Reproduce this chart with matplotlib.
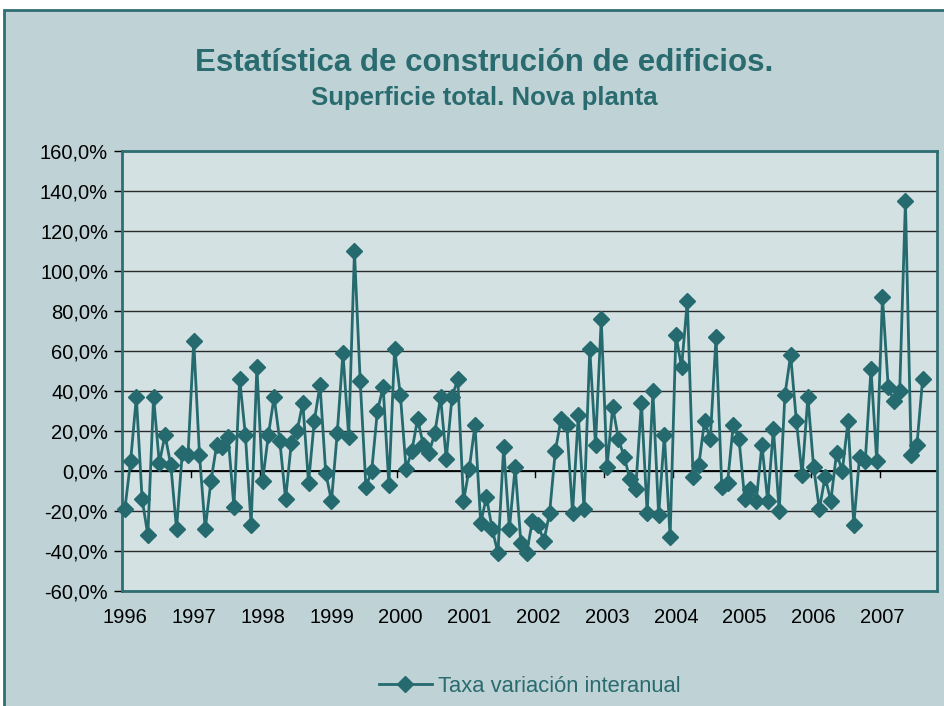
import matplotlib
matplotlib.use("Agg")
import matplotlib.pyplot as plt
from matplotlib.patches import Rectangle
from matplotlib.lines import Line2D

# ---- data (monthly, Jan 1996 .. Aug 2007), % year-on-year change ----
taxa = [
    -19, 5, 37, -14, -32, 37, 4, 18, 3, -29, 9, 8,          # 1996
    65, 8, -29, -5, 13, 12, 17, -18, 46, 18, -27, 52,       # 1997
    -5, 18, 37, 15, -14, 14, 20, 34, -6, 25, 43, -1,        # 1998
    -15, 19, 59, 17, 110, 45, -8, 0, 30, 42, -7, 61,        # 1999
    38, 1, 10, 26, 13, 9, 19, 37, 6, 37, 46, -15,           # 2000
    1, 23, -26, -13, -29, -41, 12, -29, 2, -36, -41, -25,   # 2001
    -27, -35, -21, 10, 26, 23, -21, 28, -19, 61, 13, 76,    # 2002
    2, 32, 16, 7, -4, -9, 34, -21, 40, -22, 18, -33,        # 2003
    68, 52, 85, -3, 3, 25, 16, 67, -8, -6, 23, 16,          # 2004
    -14, -9, -15, 13, -15, 21, -20, 38, 58, 25, -2, 37,     # 2005
    2, -19, -3, -15, 9, 0, 25, -27, 7, 5, 51, 5,            # 2006
    87, 42, 35, 40, 135, 8, 13, 46,                         # 2007
]
years = [str(y) for y in range(1996, 2008)]
serie_label = "Taxa variación interanual"
title = "Estatística de construción de edificios."
subtitle = "Superficie total. Nova planta"

teal = "#256A6E"
txt_teal = "#2A6B6F"
plt.rcParams['font.family'] = ['Liberation Sans', 'DejaVu Sans']

fig = plt.figure(figsize=(9.44, 7.06), dpi=100, facecolor="white")
bg = Rectangle((4 / 944, -0.02), 1.1, (706 - 10) / 706 + 0.02, transform=fig.transFigure,
               facecolor="#BFD2D5", edgecolor="#2F6E73", lw=2, zorder=-10)
fig.patches.append(bg)

ax = fig.add_axes([122 / 944, 1 - 591 / 706, (937 - 122) / 944, (591 - 151) / 706])
ax.set_facecolor("#D3E1E3")

x = list(range(len(taxa)))
ax.plot(x, taxa, color=teal, lw=2, marker="D", markersize=7.8,
        markerfacecolor=teal, markeredgecolor=teal, zorder=3, clip_on=False)

ax.set_xlim(-0.5, 141.5)
ax.set_ylim(-60, 160)

yt = list(range(-60, 161, 20))
ax.set_yticks(yt)
ax.set_yticklabels([f"{v},0%" for v in yt], fontsize=14.5)
for v in yt:
    ax.axhline(v, color="#2a2a2a", lw=1.0, zorder=1)
ax.axhline(0, color="black", lw=1.3, zorder=2)

# year labels at category centres, year tick marks on the zero line
ax.set_xticks([12 * i for i in range(len(years))])
ax.set_xticklabels(years, fontsize=14.5)
ax.tick_params(axis="x", length=0, pad=12)
for i in range(1, 12):
    ax.plot([12 * i - 0.5, 12 * i - 0.5], [0, -3], color="black", lw=1, zorder=2)
ax.tick_params(axis="y", length=6, width=1, color="black", pad=4, direction="out")

for s in ax.spines.values():
    s.set_color("#2F6E73")
    s.set_linewidth(2)
ax.axvline(-0.5, color="black", lw=1.2, zorder=2)

fig.text(484 / 944, 1 - 63 / 706, title, ha="center", va="center", fontsize=22.5,
         fontweight="bold", color=txt_teal)
fig.text(484 / 944, 1 - 98 / 706, subtitle, ha="center", va="center", fontsize=18.5,
         fontweight="bold", color=txt_teal)

h = Line2D([], [], color=teal, lw=2, marker="D", markersize=7.8)
fig.legend([h], [serie_label], loc="center", bbox_to_anchor=(530 / 944, 1 - 686 / 706),
           frameon=False, fontsize=15.8, labelcolor=txt_teal, handlelength=2.4,
           handletextpad=0.3)

fig.savefig("out.png", dpi=100, facecolor="white")
